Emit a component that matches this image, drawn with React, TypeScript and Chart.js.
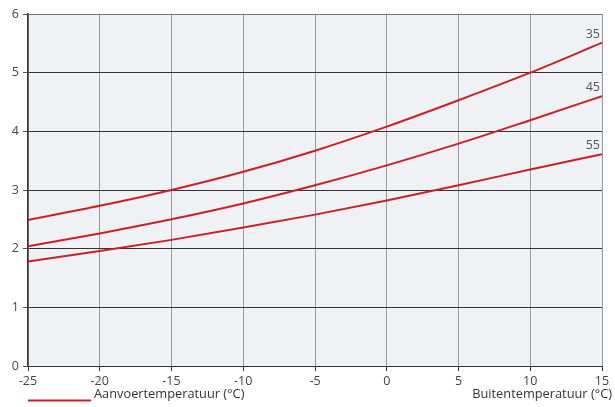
import React, { useEffect, useRef } from "react";
import { Chart, registerables } from "chart.js";

Chart.register(...registerables);

const outdoorTemps = [-25, -20, -15, -10, -5, 0, 5, 10, 15];
const flow35 = [2.49, 2.73, 3.0, 3.31, 3.67, 4.08, 4.53, 5.0, 5.51];
const flow45 = [2.04, 2.26, 2.5, 2.77, 3.08, 3.42, 3.79, 4.19, 4.6];
const flow55 = [1.78, 1.96, 2.15, 2.36, 2.58, 2.82, 3.08, 3.35, 3.61];
const seriesLabels = ["35", "45", "55"];
const legendText = "Aanvoertemperatuur (°C)";
const xAxisTitle = "Buitentemperatuur (°C)";

const FONT = "'Open Sans', 'Noto Sans', sans-serif";
const RED = "#c8202a";

export default function App() {
  const ref = useRef<HTMLCanvasElement | null>(null);

  useEffect(() => {
    const canvas = ref.current;
    if (!canvas) return;
    const mk = (arr: number[]) => outdoorTemps.map((x, i) => ({ x, y: arr[i] }));
    const all = [flow35, flow45, flow55];

    const bgPlugin = {
      id: "bg",
      beforeDraw(chart: any) {
        const { ctx, chartArea } = chart;
        ctx.save();
        ctx.fillStyle = "#f0f1f4";
        ctx.fillRect(chartArea.left, chartArea.top, chartArea.right - chartArea.left, chartArea.bottom - chartArea.top);
        ctx.restore();
      },
      afterDraw(chart: any) {
        const { ctx, chartArea, scales } = chart;
        ctx.save();
        ctx.font = `12.5px ${FONT}`;
        ctx.fillStyle = "#555";
        ctx.textAlign = "right";
        ctx.textBaseline = "alphabetic";
        all.forEach((arr, i) => {
          const y = scales.y.getPixelForValue(arr[arr.length - 1]);
          ctx.fillText(seriesLabels[i], chartArea.right - 2, y - 5);
        });
        // legend
        ctx.strokeStyle = RED;
        ctx.lineWidth = 2;
        ctx.beginPath();
        ctx.moveTo(28, 400.5);
        ctx.lineTo(91, 400.5);
        ctx.stroke();
        ctx.fillStyle = "#333";
        ctx.font = `12.8px ${FONT}`;
        ctx.textAlign = "left";
        ctx.fillText(legendText, 94, 398);
        ctx.textAlign = "right";
        ctx.fillText(xAxisTitle, 612, 398);
        ctx.restore();
      },
    };

    const chart = new Chart(canvas, {
      type: "line",
      data: {
        datasets: all.map((arr, i) => ({
          label: seriesLabels[i],
          data: mk(arr),
          borderColor: RED,
          borderWidth: 2,
          pointRadius: 0,
          cubicInterpolationMode: "monotone" as const,
          fill: false,
        })),
      },
      options: {
        animation: false,
        responsive: false,
        layout: { padding: { top: 14, right: 13, left: 0, bottom: 0 } },
        plugins: { legend: { display: false }, tooltip: { enabled: false } },
        scales: {
          x: {
            type: "linear",
            min: -25,
            max: 15,
            ticks: { stepSize: 5, color: "#444", font: { family: FONT, size: 12.5 }, padding: 3, maxRotation: 0 },
            grid: {
              color: () => "#999",
              tickColor: "#333",
              tickLength: 5,
              lineWidth: 1,
            },
            border: { color: "#333", width: 1 },
            afterFit(scale: any) {
              scale.height = 41;
            },
          },
          y: {
            min: 0,
            max: 6,
            ticks: { stepSize: 1, color: "#444", font: { family: FONT, size: 12.5 }, padding: 4 },
            grid: {
              color: (c: any) => (c.tick && c.tick.value === 6 ? "#777" : "#333"),
              tickColor: "#555",
              tickLength: 5,
              lineWidth: 1,
            },
            border: { color: "#333", width: 1.5 },
            afterFit(scale: any) {
              scale.width = 28;
            },
          },
        },
      },
      plugins: [bgPlugin],
    });
    return () => chart.destroy();
  }, []);

  return (
    <div style={{ position: "absolute", left: 0, top: 0, width: 615, height: 407, background: "#fff" }}>
      <canvas ref={ref} width={615} height={407} style={{ display: "block" }} />
    </div>
  );
}
